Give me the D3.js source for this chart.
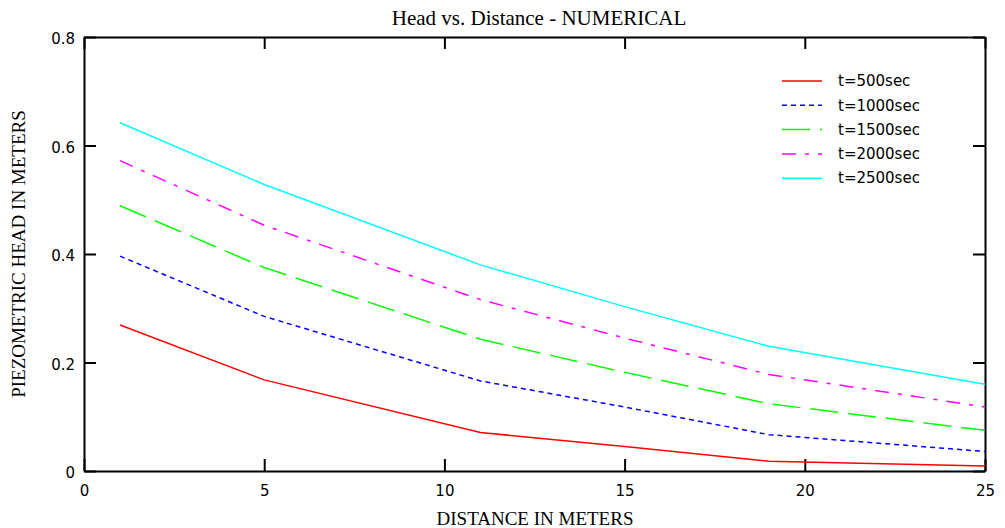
<!DOCTYPE html>
<html>
<head>
<meta charset="utf-8">
<script src="https://cdn.jsdelivr.net/npm/d3@7"></script>
<style>
  body { margin: 0; background: #fff; }
  svg { display: block; }
  .tick text { font-family: "DejaVu Sans", sans-serif; font-size: 15px; fill: #000; }
</style>
</head>
<body>
<svg id="chart" width="1005" height="528"></svg>
<script>
// distance points (m) where heads were read
const distance = [1, 5, 11, 15, 19, 25];
const seriesNames = ["t=500sec", "t=1000sec", "t=1500sec", "t=2000sec", "t=2500sec"];
const head500 = [0.269, 0.168, 0.071, 0.045, 0.018, 0.009];
const head1000 = [0.396, 0.285, 0.166, 0.118, 0.067, 0.036];
const head1500 = [0.489, 0.375, 0.243, 0.182, 0.124, 0.075];
const head2000 = [0.572, 0.453, 0.316, 0.245, 0.178, 0.118];
const head2500 = [0.642, 0.528, 0.380, 0.303, 0.230, 0.160];
const xTicks = [0, 5, 10, 15, 20, 25];
const yTicks = [0, 0.2, 0.4, 0.6, 0.8];

const heads = [head500, head1000, head1500, head2000, head2500];
const colors = ["#ff0000", "#0000ff", "#00ff00", "#ff00ff", "#00ffff"];
const dashes = [null, "5,4", "28,10", "14,9,4,9", null];

const svg = d3.select("#chart");
const plotLeft = 84, plotRight = 985, plotTop = 37, plotBottom = 471;

let x = d3.scaleLinear().domain([0, 25]).range([plotLeft, plotRight]);
let y = d3.scaleLinear().domain([0, 0.8]).range([plotBottom, plotTop]);

// axes - ticks point into the plot on all four sides
svg.append("g")
    .attr("transform", `translate(0,${plotBottom})`)
    .call(d3.axisBottom(x).tickValues(xTicks).tickFormat(d3.format("d"))
        .tickSizeInner(-12).tickSizeOuter(0).tickPadding(14));
svg.append("g")
    .attr("transform", `translate(${plotLeft},0)`)
    .call(d3.axisLeft(y).tickValues(yTicks).tickFormat(d => d === 0 ? "0" : d3.format(".1f")(d))
        .tickSizeInner(-12).tickSizeOuter(0).tickPadding(9))
    .selectAll("text").attr("y", 2);
svg.append("g")
    .attr("transform", `translate(0,${plotTop})`)
    .call(d3.axisTop(x).tickValues(xTicks).tickFormat("")
        .tickSizeInner(-12).tickSizeOuter(0));
svg.append("g")
    .attr("transform", `translate(${plotRight},0)`)
    .call(d3.axisRight(y).tickValues(yTicks).tickFormat("")
        .tickSizeInner(-12).tickSizeOuter(0));

svg.selectAll(".domain, .tick line")
    .attr("stroke", "#000")
    .attr("stroke-width", 2);

// curves
const line = d3.line()
    .x(d => x(d[0]))
    .y(d => y(d[1]));

heads.forEach(function (h, i) {
    svg.append("path")
        .datum(distance.map((d, j) => [d, h[j]]))
        .attr("d", line)
        .attr("fill", "none")
        .attr("stroke", colors[i])
        .attr("stroke-width", 1.5)
        .attr("stroke-dasharray", dashes[i]);
});

// legend
const legend = svg.append("g").attr("class", "legend");
seriesNames.forEach(function (name, i) {
    let ly = 81 + i * 24.3;
    legend.append("line")
        .attr("x1", 782).attr("x2", 822)
        .attr("y1", ly).attr("y2", ly)
        .attr("stroke", colors[i])
        .attr("stroke-width", 1.5)
        .attr("stroke-dasharray", dashes[i]);
    legend.append("text")
        .attr("x", 838).attr("y", ly)
        .attr("dy", "0.35em")
        .attr("font-family", "DejaVu Sans, sans-serif")
        .attr("font-size", "15px")
        .text(name);
});

// titles
svg.append("text")
    .attr("x", 539).attr("y", 25)
    .attr("text-anchor", "middle")
    .attr("font-family", "Liberation Serif, serif")
    .attr("font-size", "21px")
    .text("Head vs. Distance - NUMERICAL");
svg.append("text")
    .attr("x", 535).attr("y", 525)
    .attr("text-anchor", "middle")
    .attr("font-family", "Liberation Serif, serif")
    .attr("font-size", "19px")
    .text("DISTANCE IN METERS");
svg.append("text")
    .attr("transform", `translate(25,${(plotTop + plotBottom) / 2}) rotate(-90)`)
    .attr("text-anchor", "middle")
    .attr("font-family", "Liberation Serif, serif")
    .attr("font-size", "19px")
    .text("PIEZOMETRIC HEAD IN METERS");
</script>
</body>
</html>
